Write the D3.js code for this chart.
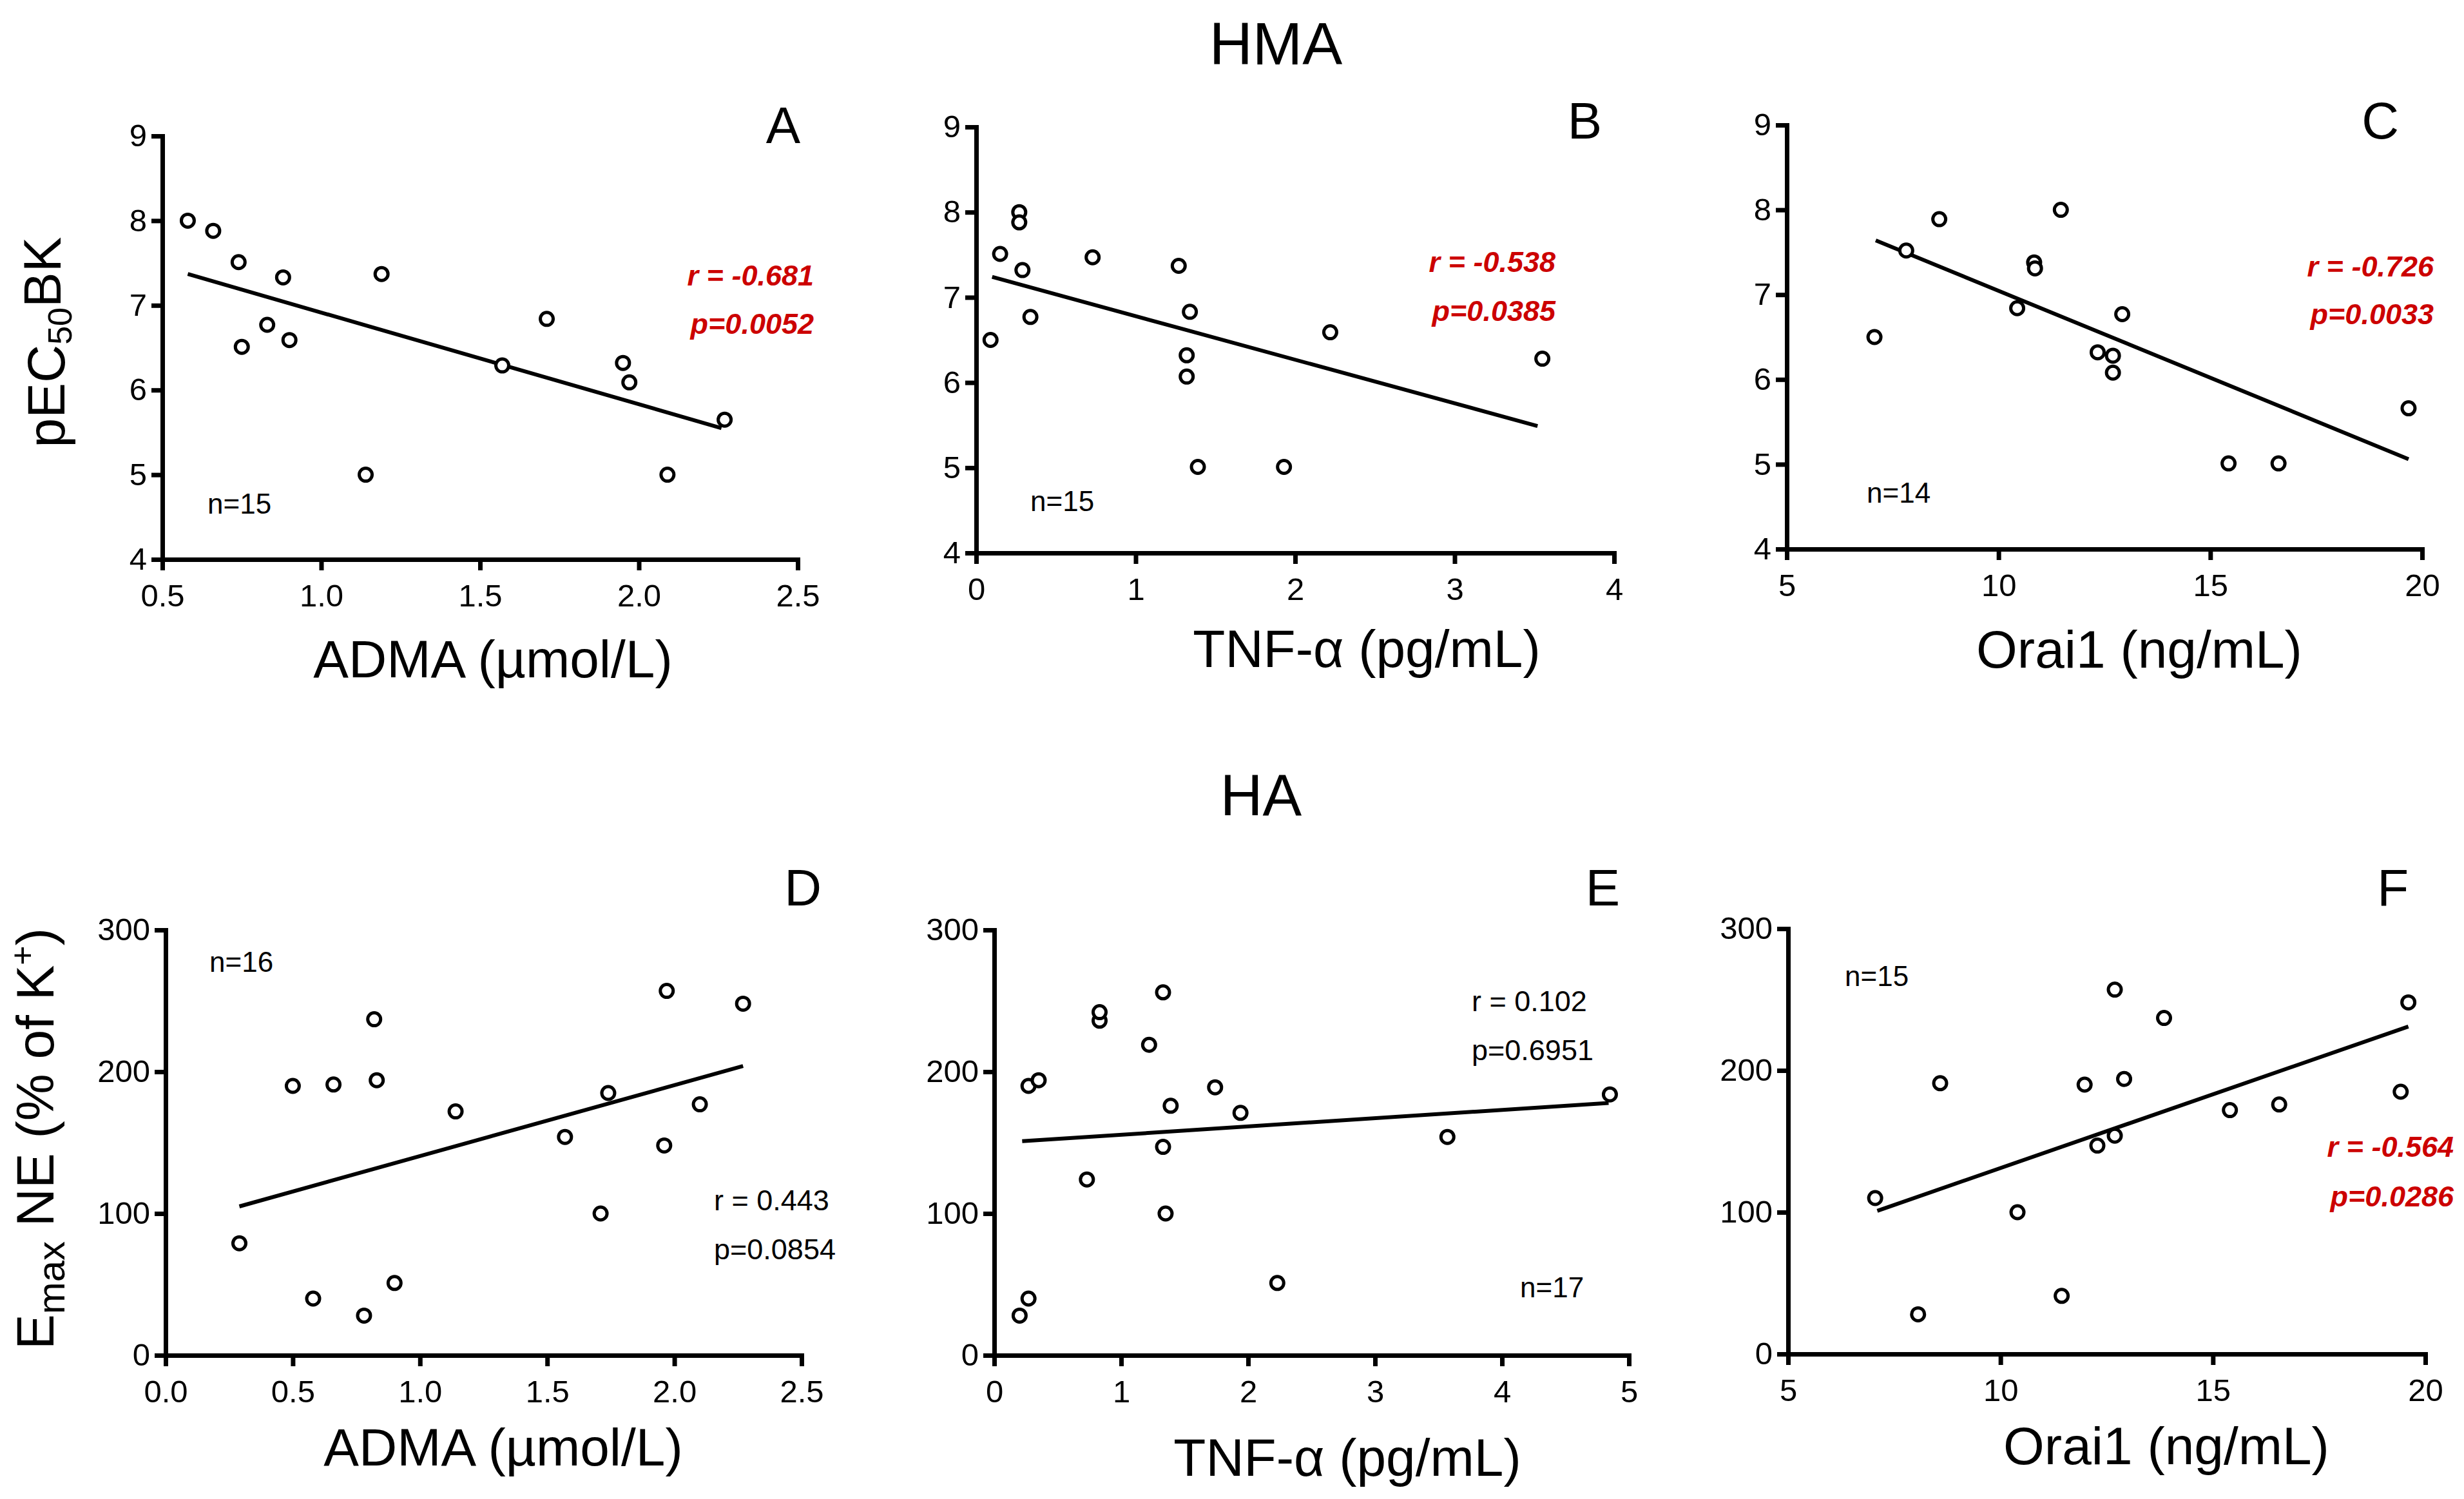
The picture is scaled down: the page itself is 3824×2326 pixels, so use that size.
<!DOCTYPE html>
<html lang="en">
<head>
    <meta charset="UTF-8">
    <title>HMA / HA correlations</title>
    <style>
        html, body { margin: 0; padding: 0; background: #fff; }
        svg text { font-family: "Liberation Sans", Arial, sans-serif; fill: #000; }
    </style>
</head>
<body>
    <div id="chart"></div>

    <script src="https://cdn.jsdelivr.net/npm/d3@7"></script>
    <script>
    // ---- data ----
    // HMA: pEC50 BK
    const admaHMA      = [0.58, 0.66, 0.74, 0.88, 0.75, 0.83, 0.90, 1.19, 1.14, 1.57, 1.71, 1.95, 1.97, 2.09, 2.27];
    const pec50VsAdma  = [8.00, 7.88, 7.51, 7.33, 6.51, 6.77, 6.59, 7.37, 5.00, 6.29, 6.84, 6.32, 6.09, 5.00, 5.65];
    const tnfHMA       = [0.09, 0.15, 0.27, 0.27, 0.29, 0.34, 0.73, 1.27, 1.34, 1.32, 1.32, 1.39, 1.93, 2.22, 3.55];
    const pec50VsTnf   = [6.50, 7.51, 8.00, 7.88, 7.32, 6.77, 7.47, 7.37, 6.83, 6.32, 6.07, 5.01, 5.01, 6.59, 6.28];
    const orai1HMA     = [7.07, 7.82, 8.60, 11.47, 10.84, 10.86, 10.44, 12.92, 12.34, 12.70, 12.70, 15.43, 16.61, 19.68];
    const pec50VsOrai1 = [6.50, 7.52, 7.89, 8.00, 7.38, 7.31, 6.84, 6.77, 6.32, 6.28, 6.08, 5.01, 5.01, 5.66];

    // HA: Emax NE (% of K+)
    const admaHA       = [0.29, 0.50, 0.58, 0.66, 0.78, 0.82, 0.83, 0.90, 1.14, 1.57, 1.71, 1.74, 1.97, 1.96, 2.10, 2.27];
    const emaxVsAdma   = [79, 190, 40, 191, 28, 237, 194, 51, 172, 154, 100, 185, 257, 148, 177, 248];
    const tnfHA        = [0.20, 0.27, 0.27, 0.35, 0.73, 0.83, 0.83, 1.22, 1.33, 1.33, 1.35, 1.39, 1.74, 1.94, 2.23, 3.57, 4.85];
    const emaxVsTnf    = [28, 40, 190, 194, 124, 236, 242, 219, 256, 147, 100, 176, 189, 171, 51, 154, 184];
    const orai1HA      = [7.05, 8.06, 8.58, 10.40, 11.44, 11.98, 12.28, 12.69, 12.69, 12.91, 13.85, 15.40, 16.56, 19.42, 19.60];
    const emaxVsOrai1  = [110, 28, 191, 100, 41, 190, 147, 257, 154, 194, 237, 172, 176, 185, 248];

    // regression lines, end points [x, y]
    const fitLines = [
        [[0.58, 7.37], [2.26, 5.55]],
        [[0.10, 7.24], [3.52, 5.49]],
        [[7.10, 7.64], [19.68, 5.06]],
        [[0.29, 105], [2.27, 204]],
        [[0.22, 151], [4.84, 178]],
        [[7.10, 101], [19.60, 231]]
    ];

    const panelLetters = ["A", "B", "C", "D", "E", "F"];
    const xLabels = ["ADMA (µmol/L)", "TNF-α (pg/mL)", "Orai1 (ng/mL)", "ADMA (µmol/L)", "TNF-α (pg/mL)", "Orai1 (ng/mL)"];
    const xTicks = [
        [0.5, 1.0, 1.5, 2.0, 2.5], [0, 1, 2, 3, 4], [5, 10, 15, 20],
        [0.0, 0.5, 1.0, 1.5, 2.0, 2.5], [0, 1, 2, 3, 4, 5], [5, 10, 15, 20]
    ];
    const xTickFormats = [".1f", "d", "d", ".1f", "d", "d"];
    const yTicksHMA = [4, 5, 6, 7, 8, 9];
    const yTicksHA = [0, 100, 200, 300];
    const statR = ["r = -0.681", "r = -0.538", "r = -0.726", "r = 0.443", "r = 0.102", "r = -0.564"];
    const statP = ["p=0.0052", "p=0.0385", "p=0.0033", "p=0.0854", "p=0.6951", "p=0.0286"];
    const significant = [true, true, true, false, false, true];
    const nLabels = ["n=15", "n=15", "n=14", "n=16", "n=17", "n=15"];
    const groupTitles = ["HMA", "HA"];

    const xValues = [admaHMA, tnfHMA, orai1HMA, admaHA, tnfHA, orai1HA];
    const yValues = [pec50VsAdma, pec50VsTnf, pec50VsOrai1, emaxVsAdma, emaxVsTnf, emaxVsOrai1];

    // ---- layout (pixels) ----
    const W = 3824, H = 2326;
    const layout = [
        { x0: 252,  x1: 1238, yTop: 211,  yBot: 868,  letter: [1242, 222],  stat: [1263, 443, 518, "end"],   n: [322, 797],   xl: [765, 1051] },
        { x0: 1515, x1: 2505, yTop: 197,  yBot: 858,  letter: [2486, 215],  stat: [2414, 422, 498, "end"],   n: [1599, 793],  xl: [2121, 1035] },
        { x0: 2773, x1: 3759, yTop: 194,  yBot: 852,  letter: [3723, 215],  stat: [3777, 429, 503, "end"],   n: [2897, 780],  xl: [3320, 1036] },
        { x0: 257,  x1: 1244, yTop: 1443, yBot: 2103, letter: [1275, 1405], stat: [1108, 1878, 1954, "start"], n: [325, 1508],  xl: [781, 2274] },
        { x0: 1543, x1: 2528, yTop: 1443, yBot: 2103, letter: [2514, 1405], stat: [2284, 1569, 1645, "start"], n: [2359, 2013], xl: [2091, 2290] },
        { x0: 2775, x1: 3764, yTop: 1441, yBot: 2101, letter: [3738, 1405], stat: [3808, 1795, 1872, "end"],   n: [2863, 1530], xl: [3362, 2272] }
    ];
    const RED = "#cc0000";

    const svg = d3.select("#chart").append("svg")
        .attr("width", W)
        .attr("height", H)
        .attr("viewBox", `0 0 ${W} ${H}`);

    svg.append("rect").attr("width", W).attr("height", H).attr("fill", "#fff");

    function styleAxis(g) {
        g.attr("font-size", null).attr("font-family", null);
        g.select(".domain").attr("stroke", "#000").attr("stroke-width", 7).attr("stroke-linecap", "square");
        g.selectAll(".tick line").attr("stroke", "#000").attr("stroke-width", 7);
        g.selectAll(".tick text").style("font-size", "49px").attr("fill", "#000");
    }

    function drawPanel(i) {
        const L = layout[i];
        const top = i < 3;
        const g = svg.append("g").attr("class", "panel-" + panelLetters[i]);

        const xDomain = d3.extent(xTicks[i]);
        const yTicks = top ? yTicksHMA : yTicksHA;
        const x = d3.scaleLinear().domain(xDomain).range([L.x0, L.x1]);
        const y = d3.scaleLinear().domain(d3.extent(yTicks)).range([L.yBot, L.yTop]);

        // X-axis
        g.append("g")
            .attr("transform", `translate(0,${L.yBot})`)
            .call(d3.axisBottom(x).tickValues(xTicks[i]).tickFormat(d3.format(xTickFormats[i]))
                .tickSizeOuter(0).tickSizeInner(17).tickPadding(21))
            .call(styleAxis);

        // Y-axis
        g.append("g")
            .attr("transform", `translate(${L.x0},0)`)
            .call(d3.axisLeft(y).tickValues(yTicks).tickFormat(d3.format("d"))
                .tickSizeOuter(0).tickSizeInner(17).tickPadding(7))
            .call(styleAxis);

        // regression line
        g.append("path")
            .datum(fitLines[i])
            .attr("fill", "none")
            .attr("stroke", "#000")
            .attr("stroke-width", 6)
            .attr("d", d3.line().x(d => x(d[0])).y(d => y(d[1])));

        // points
        const pts = xValues[i].map((v, k) => ({ x: v, y: yValues[i][k] }));
        g.append("g")
            .selectAll("circle")
            .data(pts)
            .enter()
            .append("circle")
                .attr("cx", d => x(d.x))
                .attr("cy", d => y(d.y))
                .attr("r", 10)
                .attr("fill", "#fff")
                .attr("stroke", "#000")
                .attr("stroke-width", 5);

        // panel letter
        g.append("text")
            .attr("x", L.letter[0]).attr("y", L.letter[1])
            .attr("text-anchor", "end")
            .style("font-size", "80px")
            .text(panelLetters[i]);

        // r / p
        const [sx, sy1, sy2, anchor] = L.stat;
        [[statR[i], sy1], [statP[i], sy2]].forEach(([txt, yy]) => {
            const t = g.append("text")
                .attr("x", sx).attr("y", yy)
                .attr("text-anchor", anchor)
                .style("font-size", "45px")
                .text(txt);
            if (significant[i]) {
                t.style("fill", RED).style("font-weight", "bold").style("font-style", "italic");
            }
        });

        // n
        g.append("text")
            .attr("x", L.n[0]).attr("y", L.n[1])
            .style("font-size", "44px")
            .text(nLabels[i]);

        // x label
        g.append("text")
            .attr("x", L.xl[0]).attr("y", L.xl[1])
            .attr("text-anchor", "middle")
            .style("font-size", "82px")
            .text(xLabels[i]);
    }

    d3.range(6).forEach(drawPanel);

    // group titles
    svg.append("text")
        .attr("x", 1980).attr("y", 100)
        .attr("text-anchor", "middle")
        .style("font-size", "93px")
        .text(groupTitles[0]);
    svg.append("text")
        .attr("x", 1957).attr("y", 1265)
        .attr("text-anchor", "middle")
        .style("font-size", "91px")
        .text(groupTitles[1]);

    // y label, top row: pEC50BK
    const yl1 = svg.append("text")
        .attr("transform", "translate(100,531) rotate(-90)")
        .attr("text-anchor", "middle")
        .style("font-size", "82px");
    yl1.append("tspan").text("pEC");
    yl1.append("tspan").attr("dy", "0.21em").style("font-size", "52px").text("50");
    yl1.append("tspan").attr("dy", "-0.21em").text("BK");

    // y label, bottom row: Emax NE (% of K+)
    const yl2 = svg.append("text")
        .attr("transform", "translate(83,1767) rotate(-90)")
        .attr("text-anchor", "middle")
        .style("font-size", "82px");
    yl2.append("tspan").text("E");
    yl2.append("tspan").attr("dy", "17").style("font-size", "60px").text("max");
    yl2.append("tspan").attr("dy", "-17").text(" NE (% of K");
    yl2.append("tspan").attr("dy", "-30").style("font-size", "52px").text("+");
    yl2.append("tspan").attr("dy", "30").text(")");
    </script>
</body>
</html>
